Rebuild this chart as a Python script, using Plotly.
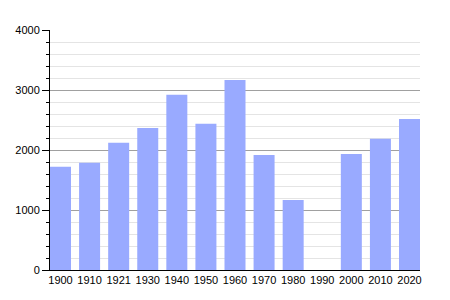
import plotly.graph_objects as go

years = ["1900", "1910", "1921", "1930", "1940", "1950", "1960", "1970", "1980", "1990", "2000", "2010", "2020"]
population = [1722, 1789, 2122, 2367, 2922, 2439, 3167, 1917, 1167, None, 1933, 2189, 2517]
y_ticks = [0, 1000, 2000, 3000, 4000]

fig = go.Figure(go.Bar(x=years, y=population, marker=dict(color="#99aaff", line=dict(width=0))))
fig.update_layout(
    width=450, height=300,
    margin=dict(l=50, r=30, t=30, b=30),
    paper_bgcolor="white", plot_bgcolor="white",
    bargap=0.278, showlegend=False,
    font=dict(family="Liberation Sans, Arial, sans-serif", size=11, color="black"),
)
fig.update_xaxes(type="category", range=[-0.361, 12.361], showline=True, linecolor="black", linewidth=1,
                 showgrid=False, ticks="", tickfont=dict(size=11))
fig.update_yaxes(range=[0, 4000], tickvals=y_ticks, showline=True, linecolor="black", linewidth=1,
                 showgrid=True, gridcolor="#a0a0a0", gridwidth=1, zeroline=False,
                 ticks="outside", ticklen=7, tickcolor="black",
                 minor=dict(dtick=200, showgrid=True, gridcolor="#e4e4e4", ticks="outside", ticklen=3, tickcolor="black"))
fig.write_html("out.html")
